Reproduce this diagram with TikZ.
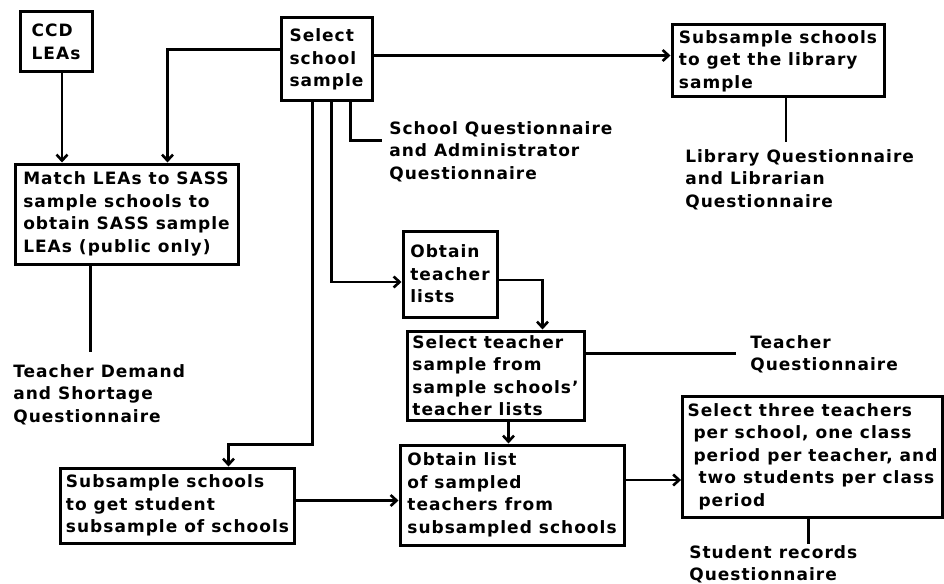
\documentclass[tikz,border=0pt]{standalone}
\usepackage{fontspec}
\setmainfont{DejaVu Sans}
\usetikzlibrary{arrows.meta, positioning}

\begin{document}
\begin{tikzpicture}[x=1pt, y=-1pt, >={Straight Barb[length=6pt, width=11pt]}, line width=2.6pt,
    font=\bfseries\fontsize{17}{22.5}\selectfont\addfontfeature{LetterSpace=6},
    box/.style={rectangle, draw, line width=3pt, inner xsep=5pt, inner ysep=0pt, align=left},
    note/.style={inner sep=0pt, align=left, anchor=north west}]

        \useasboundingbox (0,0) rectangle (944,583);

        \node[box, minimum width=72pt, minimum height=60pt] (ccd) at (56,42) {CCD\\LEAs};
        \node[box, minimum width=91pt, minimum height=83pt] (school) at (326.5,59.5) {Select\\school\\sample};
        \node[box, minimum width=212pt, minimum height=72pt] (library) at (778,61) {Subsample schools\\to get the library\\sample};
        \node[box, minimum width=223pt, minimum height=100pt] (match) at (126.5,214) {Match LEAs to SASS\\sample schools to\\obtain SASS sample\\LEAs (public only)};
        \node[box, minimum width=94pt, minimum height=86pt] (lists) at (450,274) {Obtain\\teacher\\lists};
        \node[box, minimum width=177pt, minimum height=89pt] (tsample) at (495.5,375.5) {Select teacher\\sample from\\sample schools'\\teacher lists};
        \node[box, minimum width=224pt, minimum height=100pt] (olist) at (512,495) {Obtain list\\of sampled\\teachers from\\subsampled schools};
        \node[box, minimum width=233pt, minimum height=75pt] (student) at (177.5,505.5) {Subsample schools\\to get student\\subsample of schools};
        \node[box, minimum width=259pt, minimum height=121pt] (three) at (812.5,456.5) {Select three teachers\\\hspace*{6pt}per school, one class\\\hspace*{6pt}period per teacher, and\\\hspace*{11pt}two students per class\\\hspace*{11pt}period};

        \node[note] (schoolq) at (388,120) {School Questionnaire\\and Administrator\\Questionnaire};
        \node[note] (libq) at (684,148) {Library Questionnaire\\and Librarian\\Questionnaire};
        \node[note] (teachq) at (749,334) {Teacher\\Questionnaire};
        \node[note] (demand) at (12,363) {Teacher Demand\\and Shortage\\Questionnaire};
        \node[note] (records) at (688,544) {Student records\\Questionnaire};

        \draw[->] ([xshift=6pt]ccd.south) -- ([xshift=6pt]ccd.south |- match.north);
        \draw[->] ([yshift=10pt]school.west) -| ([xshift=41pt]match.north);
        \draw[->] ([yshift=4pt]school.east) -- ([yshift=4pt]school.east -| library.west);
        \draw[->] ([xshift=-14pt]school.south) -- ++(0,342) -| ([xshift=51pt]student.north);
        \draw[->] ([xshift=5pt]school.south) |- ([yshift=-8pt]lists.west);
        \draw[shorten >=6pt] ([xshift=24pt]school.south) |- ([yshift=11pt]schoolq.west);

        \draw[->] ([yshift=-6pt]lists.east) -| ([xshift=47pt]tsample.north);
        \draw[shorten >=13pt] ([yshift=22pt]tsample.east) -- ([yshift=22pt]tsample.east -| teachq.west);
        \draw[->] ([xshift=13pt]tsample.south) -- ([xshift=13pt]tsample.south |- olist.north);

        \draw[->] ([yshift=5pt]student.east) -- ([yshift=5pt]student.east -| olist.west);
        \draw[->] ([yshift=15pt]olist.east) -- ([yshift=15pt]olist.east -| three.west);

        \draw[shorten >=6pt] ([xshift=8pt]library.south) -- ([xshift=8pt]library.south |- libq.north);
        \draw[shorten >=11pt] ([xshift=-36pt]match.south) -- ([xshift=-36pt]match.south |- demand.north);
        \draw[shorten >=0pt] ([xshift=-4pt]three.south) -- ([xshift=-4pt]three.south |- records.north);

    \end{tikzpicture}
\end{document}
